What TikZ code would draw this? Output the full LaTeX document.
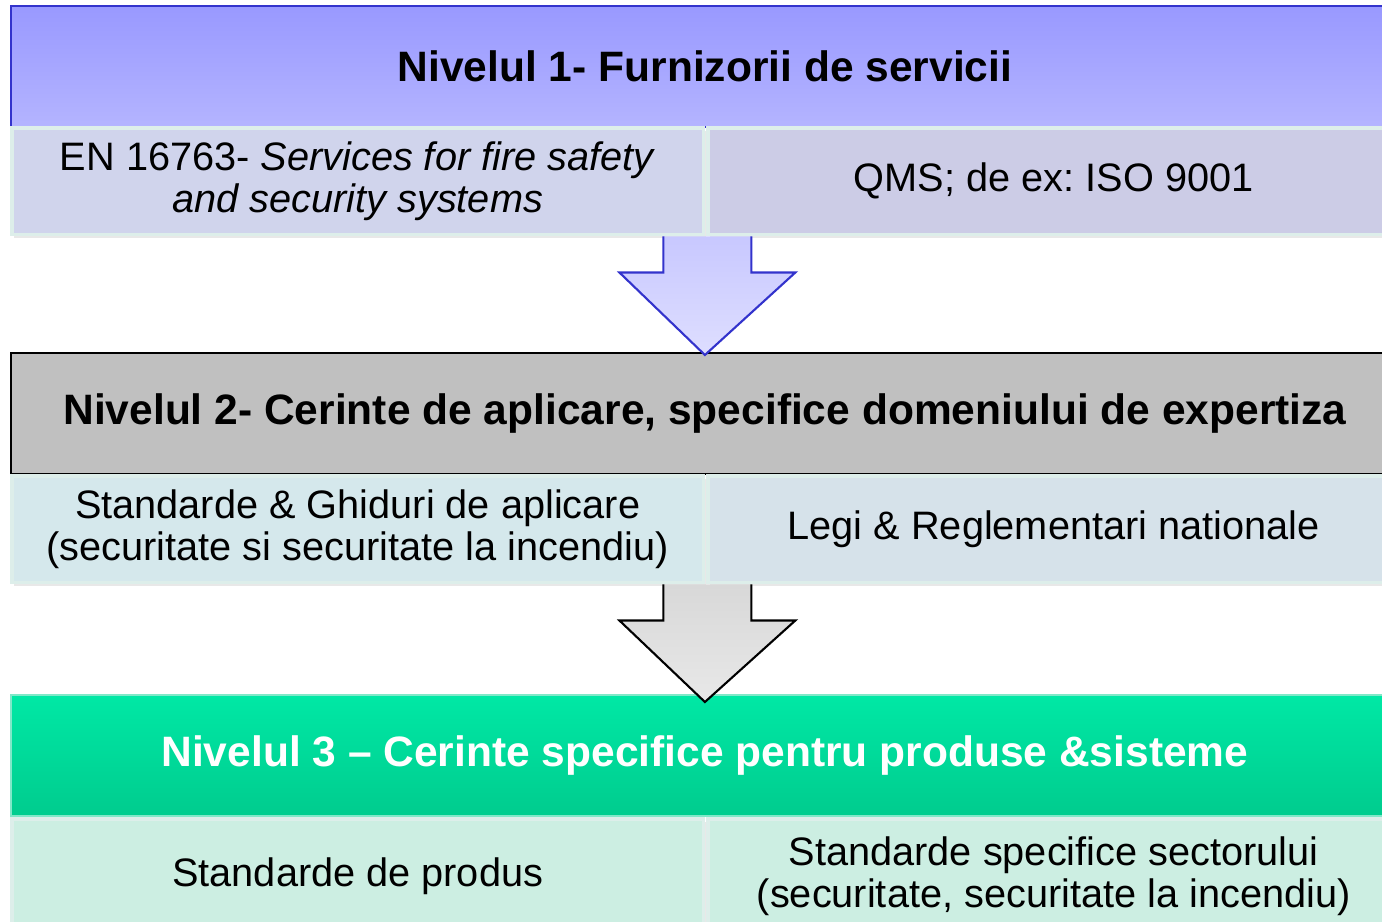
\documentclass[tikz,border=0pt]{standalone}
\usepackage{fontspec}
\setmainfont{Liberation Sans}
\usetikzlibrary{calc,shadows}
\frenchspacing

\definecolor{onetop}{HTML}{9999FF}
\definecolor{onebot}{HTML}{B4B4FF}
\definecolor{oneline}{HTML}{3333CC}
\definecolor{oneleft}{HTML}{D0D4EC}
\definecolor{oneright}{HTML}{CCCCE6}
\definecolor{twohead}{HTML}{C0C0C0}
\definecolor{twoleft}{HTML}{D5E8EC}
\definecolor{tworight}{HTML}{D6E2EA}
\definecolor{threetop}{HTML}{00E8A5}
\definecolor{threebot}{HTML}{00CC8E}
\definecolor{threeline}{HTML}{80E8C8}
\definecolor{threecell}{HTML}{CCEEE2}
\definecolor{cellline}{HTML}{DDEEEA}
\definecolor{arrowonetop}{HTML}{C8C8FF}
\definecolor{arrowonebot}{HTML}{DEDEFF}
\definecolor{arrowtwotop}{HTML}{D8D8D8}
\definecolor{arrowtwobot}{HTML}{E8E8E8}

\begin{document}
\begin{tikzpicture}[x=0.02cm,y=-0.02cm]
    \newcommand{\levelarrow}[4]{
      \shade[#3] ([xshift=-0.88cm]#1) -- ([xshift=-0.88cm,yshift=-0.72cm]#1) -- ([xshift=-1.76cm,yshift=-0.72cm]#1) -- (#2) -- ([xshift=1.76cm,yshift=-0.72cm]#1) -- ([xshift=0.88cm,yshift=-0.72cm]#1) -- ([xshift=0.88cm]#1) -- cycle;
      \draw[#4] ([xshift=-0.88cm]#1) -- ([xshift=-0.88cm,yshift=-0.72cm]#1) -- ([xshift=-1.76cm,yshift=-0.72cm]#1) -- (#2) -- ([xshift=1.76cm,yshift=-0.72cm]#1) -- ([xshift=0.88cm,yshift=-0.72cm]#1) -- ([xshift=0.88cm]#1);
    }
    \tikzstyle{header}=[
      anchor=north west,
      inner sep=0,
      minimum width=27.76cm,
      minimum height=2.42cm,
      line width=1.2pt,
      font=\fontsize{24.2}{28}\selectfont\bfseries,
    ]
    \tikzstyle{cell}=[
      anchor=north west,
      inner sep=0,
      align=center,
      minimum width=13.84cm,
      minimum height=2.14cm,
      draw=cellline,
      line width=2pt,
      font=\fontsize{22.6}{23.9}\selectfont,
      drop shadow={opacity=0.18,shadow xshift=0.04cm,shadow yshift=-0.06cm},
    ]
    \tikzstyle{arrowoneshade}=[top color=arrowonetop, bottom color=arrowonebot]
    \tikzstyle{arrowoneline}=[draw=oneline, line width=1.2pt, line join=miter]
    \tikzstyle{arrowtwoshade}=[top color=arrowtwotop, bottom color=arrowtwobot]
    \tikzstyle{arrowtwoline}=[draw=black, line width=1.2pt, line join=miter]

    \clip (0,0) rectangle (1382,922);

    % level 1
    {
      \node[header, draw=oneline, top color=onetop, bottom color=onebot] (l1head) at (10,5) {Nivelul 1- Furnizorii de servicii};
      \node[cell, fill=oneleft] (l1left) at (10,126) {EN 16763- \textit{Services for fire safety}\\\textit{and security systems}};
      \node[cell, fill=oneright] (l1right) at (706,126) {QMS; de ex: ISO 9001};
    }

    % level 2
    {
      \node[header, draw=black, fill=twohead] (l2head) at (10,352) {\raisebox{-0.1cm}{Nivelul 2- Cerinte de aplicare, specifice domeniului de expertiza}};
      \node[cell, fill=twoleft] (l2left) at (10,474) {Standarde \& Ghiduri de aplicare\\(securitate si securitate la incendiu)};
      \node[cell, fill=tworight] (l2right) at (706,474) {Legi \& Reglementari nationale};
    }

    % level 3
    {
      \node[header, draw=threeline, top color=threetop, bottom color=threebot, text=white] (l3head) at (10,694) {Nivelul 3 -- Cerinte specifice pentru produse \&sisteme};
      \node[cell, fill=threecell, minimum height=2.3cm] (l3left) at (10,817) {Standarde de produs};
      \node[cell, fill=threecell, minimum height=2.3cm] (l3right) at (706,817) {Standarde specifice sectorului\\(securitate, securitate la incendiu)};
    }

    % arrows between levels
    {
      \coordinate (a1top) at ([xshift=0.04cm] l1left.south east);
      \coordinate (a1tip) at ([yshift=-0.06cm] l2head.north);
      \coordinate (a2top) at ([xshift=0.04cm] l2left.south east);
      \coordinate (a2tip) at ([yshift=-0.16cm] l3head.north);
      \levelarrow{a1top}{a1tip}{arrowoneshade}{arrowoneline}
      \levelarrow{a2top}{a2tip}{arrowtwoshade}{arrowtwoline}
    }
\end{tikzpicture}
\end{document}
